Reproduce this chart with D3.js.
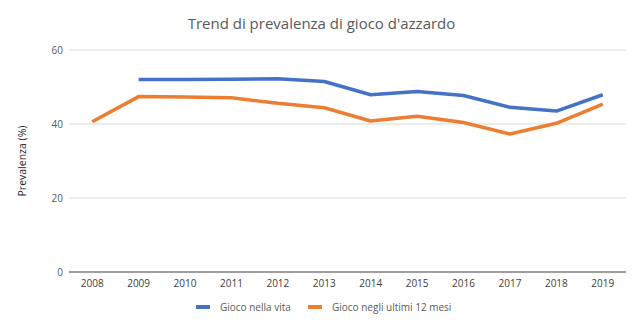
<!DOCTYPE html>
<html>
<head>
<meta charset="utf-8">
<script src="https://cdn.jsdelivr.net/npm/d3@7"></script>
<style>
  body { margin: 0; background: #fff; }
  text { font-family: "Open Sans", "Noto Sans", sans-serif; }
</style>
</head>
<body>
<div id="chart"></div>
<script>
// years on the x axis
const years = ["2008", "2009", "2010", "2011", "2012", "2013", "2014", "2015", "2016", "2017", "2018", "2019"];
// lifetime gambling (no survey in 2008)
const giocoVita = [null, 52.0, 52.0, 52.1, 52.2, 51.5, 47.9, 48.8, 47.7, 44.5, 43.5, 47.9];
// gambling in the last 12 months
const giocoUltimi12 = [40.6, 47.4, 47.3, 47.1, 45.6, 44.4, 40.8, 42.1, 40.4, 37.3, 40.2, 45.4];
const yTicks = [0, 20, 40, 60];

const series = [
    {name: "Gioco nella vita", values: giocoVita, color: "#4472c4"},
    {name: "Gioco negli ultimi 12 mesi", values: giocoUltimi12, color: "#ed7d31"}
];

const width = 643, height = 331;
const margin = {top: 50, right: 17, bottom: 59, left: 69};

const svg = d3.select("#chart").append("svg")
    .attr("width", width)
    .attr("height", height);

const x = d3.scaleBand()
    .domain(years)
    .range([margin.left, width - margin.right]);

const y = d3.scaleLinear()
    .domain([0, 60])
    .range([height - margin.bottom, margin.top]);

// gridlines
svg.append("g")
    .selectAll("line")
    .data(yTicks.filter(d => d > 0))
    .enter().append("line")
    .attr("x1", margin.left)
    .attr("x2", width - margin.right)
    .attr("y1", d => y(d))
    .attr("y2", d => y(d))
    .attr("stroke", "#d9d9d9")
    .attr("stroke-width", 1);

// y tick labels
svg.append("g")
    .selectAll("text")
    .data(yTicks)
    .enter().append("text")
    .attr("x", margin.left - 6)
    .attr("y", d => y(d))
    .attr("dy", "0.35em")
    .attr("text-anchor", "end")
    .attr("font-size", 10)
    .attr("fill", "#595959")
    .text(d => d);

// baseline
svg.append("line")
    .attr("x1", margin.left)
    .attr("x2", width - margin.right)
    .attr("y1", y(0))
    .attr("y2", y(0))
    .attr("stroke", "#7f7f7f")
    .attr("stroke-width", 1.5);

// x labels
svg.append("g")
    .selectAll("text")
    .data(years)
    .enter().append("text")
    .attr("x", d => x(d) + x.bandwidth() / 2)
    .attr("y", y(0) + 15)
    .attr("text-anchor", "middle")
    .attr("font-size", 10)
    .attr("fill", "#404040")
    .text(d => d);

const line = d3.line()
    .defined(d => d.v != null)
    .x(d => x(d.year) + x.bandwidth() / 2)
    .y(d => y(d.v));

series.forEach(s => {
    svg.append("path")
        .datum(years.map((yr, i) => ({year: yr, v: s.values[i]})))
        .attr("fill", "none")
        .attr("stroke", s.color)
        .attr("stroke-width", 3.5)
        .attr("stroke-linejoin", "round")
        .attr("d", line);
});

// title
svg.append("text")
    .attr("x", width / 2)
    .attr("y", 29)
    .attr("text-anchor", "middle")
    .attr("font-size", 15)
    .attr("fill", "#595959")
    .text("Trend di prevalenza di gioco d'azzardo");

// y axis title
svg.append("text")
    .attr("transform", `translate(26, ${(margin.top + height - margin.bottom) / 2}) rotate(-90)`)
    .attr("text-anchor", "middle")
    .attr("font-size", 10.5)
    .attr("fill", "#262626")
    .text("Prevalenza (%)");

// legend
const legendX = [196, 308];
const legend = svg.append("g")
    .selectAll("g")
    .data(series)
    .enter().append("g")
    .attr("transform", (d, i) => `translate(${legendX[i]}, 307)`);

legend.append("line")
    .attr("x1", 0)
    .attr("x2", 14)
    .attr("stroke", d => d.color)
    .attr("stroke-width", 4);

legend.append("text")
    .attr("x", 24)
    .attr("dy", "0.35em")
    .attr("font-size", 10)
    .attr("fill", "#595959")
    .text(d => d.name);
</script>
</body>
</html>
